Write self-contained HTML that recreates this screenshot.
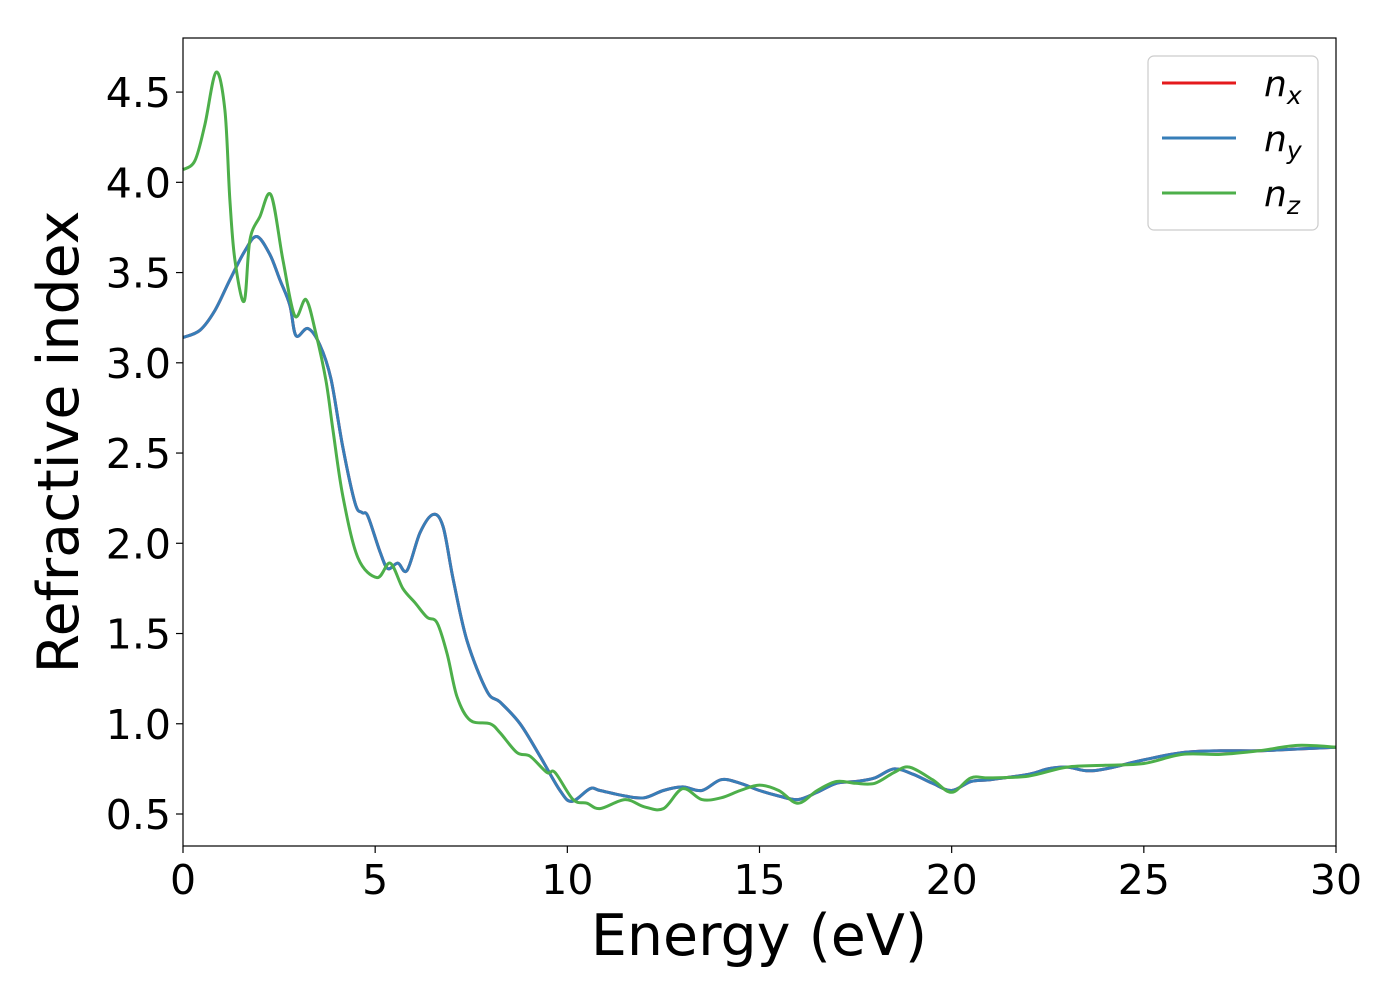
<!DOCTYPE html>
<html><head><meta charset="utf-8"><style>
body{margin:0;background:#fff}
svg text{font-family:"DejaVu Sans","Liberation Sans",sans-serif;fill:#000}
</style></head><body>
<svg id="chart" width="1400" height="1000" viewBox="0 0 1400 1000" xmlns="http://www.w3.org/2000/svg">
<rect width="1400" height="1000" fill="#fff"/>
<g id="axes"></g>
<g id="series"></g>
<rect x="183" y="38" width="1153" height="808" fill="none" stroke="#000" stroke-width="1.2"/>
<text x="759" y="955" font-size="57" text-anchor="middle">Energy (eV)</text>
<text transform="translate(78,442) rotate(-90)" font-size="57" text-anchor="middle">Refractive index</text>
<g>
<rect x="1148" y="56" width="170" height="174" rx="6" fill="#fff" stroke="#ccc" stroke-width="1.2"/>
<line x1="1162" y1="83" x2="1236" y2="83" stroke="#e41a1c" stroke-width="3"/>
<text x="1264" y="96" font-size="36" font-style="italic">n<tspan font-size="25" dy="8">x</tspan></text>
<line x1="1162" y1="138" x2="1236" y2="138" stroke="#377eb8" stroke-width="3"/>
<text x="1264" y="151" font-size="36" font-style="italic">n<tspan font-size="25" dy="8">y</tspan></text>
<line x1="1162" y1="193" x2="1236" y2="193" stroke="#4daf4a" stroke-width="3"/>
<text x="1264" y="206" font-size="36" font-style="italic">n<tspan font-size="25" dy="8">z</tspan></text>
</g>
</svg>
<script>
const xTicks=[0,5,10,15,20,25,30];
const yTicks=[0.5,1.0,1.5,2.0,2.5,3.0,3.5,4.0,4.5];
const energyXY=[0,0.44,0.83,1.22,1.61,1.92,2.26,2.52,2.78,2.94,3.25,3.56,3.85,4.16,4.48,4.66,4.81,5.13,5.33,5.59,5.83,6.17,6.51,6.77,7.03,7.39,7.91,8.25,8.77,9.29,9.81,10.12,10.59,10.85,11.5,12,12.5,13,13.5,14,14.5,15,15.5,16,16.5,17,17.5,18,18.5,19,19.5,20,20.5,21,22,22.5,23,23.5,24,25,26,27,28,29,30];
const nyValues=[3.14,3.18,3.29,3.46,3.62,3.70,3.60,3.46,3.32,3.15,3.19,3.10,2.91,2.53,2.22,2.17,2.15,1.95,1.86,1.89,1.85,2.06,2.16,2.09,1.80,1.46,1.18,1.12,1.00,0.82,0.63,0.57,0.64,0.63,0.60,0.59,0.63,0.65,0.63,0.69,0.67,0.63,0.60,0.58,0.62,0.67,0.68,0.70,0.75,0.72,0.67,0.63,0.68,0.69,0.72,0.75,0.76,0.74,0.75,0.80,0.84,0.85,0.85,0.86,0.87];
const nxValues=nyValues.slice();
const energyZ=[0,0.31,0.57,0.86,1.09,1.22,1.35,1.59,1.74,2.00,2.29,2.60,2.91,3.20,3.46,3.72,3.90,4.16,4.55,5.05,5.39,5.72,6.04,6.35,6.61,6.87,7.13,7.47,7.99,8.25,8.69,9.03,9.47,9.68,10.15,10.51,10.85,11.5,12,12.5,13,13.5,14,14.5,15,15.5,16,16.5,17,17.5,18,18.5,18.9,19.5,20,20.5,21,22,23,24,25,26,27,28,29,30];
const nzValues=[4.07,4.12,4.32,4.61,4.40,3.90,3.57,3.34,3.68,3.81,3.93,3.57,3.26,3.35,3.16,2.90,2.63,2.26,1.92,1.81,1.89,1.75,1.67,1.59,1.56,1.39,1.15,1.02,1.00,0.95,0.84,0.82,0.73,0.73,0.58,0.56,0.53,0.58,0.54,0.53,0.64,0.58,0.59,0.63,0.66,0.63,0.56,0.63,0.68,0.67,0.67,0.73,0.76,0.69,0.62,0.70,0.70,0.71,0.76,0.77,0.78,0.83,0.83,0.85,0.88,0.87];

const X0=183,X1=1336,Y0=846,Y1=38;
const xMin=0,xMax=30,yMin=0.3227,yMax=4.7997;
function sx(v){return X0+(v-xMin)/(xMax-xMin)*(X1-X0);}
function sy(v){return Y0-(v-yMin)/(yMax-yMin)*(Y0-Y1);}
const NS="http://www.w3.org/2000/svg";
const axes=document.getElementById('axes');
xTicks.forEach(t=>{
  const l=document.createElementNS(NS,'line');
  
  
  l.setAttribute('x1',sx(t));l.setAttribute('x2',sx(t));l.setAttribute('y1',Y0);l.setAttribute('y2',Y0+7);l.setAttribute('stroke','#000');l.setAttribute('stroke-width','1.2');
  axes.appendChild(l);
  const tx=document.createElementNS(NS,'text');
  
  
  tx.setAttribute('x',sx(t));tx.setAttribute('y',Y0+48);tx.setAttribute('font-size','41');tx.setAttribute('text-anchor','middle');
  tx.textContent=String(t);axes.appendChild(tx);
});
yTicks.forEach(t=>{
  const l=document.createElementNS(NS,'line');
  
  
  l.setAttribute('x1',X0-7);l.setAttribute('x2',X0);l.setAttribute('y1',sy(t));l.setAttribute('y2',sy(t));l.setAttribute('stroke','#000');l.setAttribute('stroke-width','1.2');
  axes.appendChild(l);
  const tx=document.createElementNS(NS,'text');
  
  
  tx.setAttribute('x',X0-12);tx.setAttribute('y',sy(t)+15);tx.setAttribute('font-size','41');tx.setAttribute('text-anchor','end');
  tx.textContent=t.toFixed(1);axes.appendChild(tx);
});
function pathFor(xs,ys){
  const p=xs.map((x,i)=>[sx(x),sy(ys[i])]);
  let d='M'+p[0][0].toFixed(1)+','+p[0][1].toFixed(1);
  for(let i=0;i<p.length-1;i++){
    const a=p[Math.max(0,i-1)],b=p[i],c=p[i+1],e=p[Math.min(p.length-1,i+2)];
    const c1=[b[0]+(c[0]-a[0])/6,b[1]+(c[1]-a[1])/6];
    const c2=[c[0]-(e[0]-b[0])/6,c[1]-(e[1]-b[1])/6];
    d+='C'+c1[0].toFixed(1)+','+c1[1].toFixed(1)+' '+c2[0].toFixed(1)+','+c2[1].toFixed(1)+' '+c[0].toFixed(1)+','+c[1].toFixed(1);
  }
  return d;
}
const series=document.getElementById('series');
function addLine(xs,ys,color,name){
  const p=document.createElementNS(NS,'path');
  
  
  p.setAttribute('d',pathFor(xs,ys));p.setAttribute('fill','none');p.setAttribute('stroke',color);p.setAttribute('stroke-width','3');p.setAttribute('stroke-linejoin','round');
  series.appendChild(p);
}
addLine(energyXY,nxValues,'#e41a1c','nx-line');
addLine(energyXY,nyValues,'#377eb8','ny-line');
addLine(energyZ,nzValues,'#4daf4a','nz-line');
</script>
</body></html>
